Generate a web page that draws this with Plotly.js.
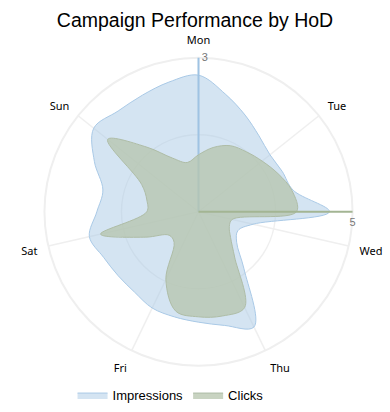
<!DOCTYPE html>
<html>
<head>
<meta charset="utf-8">
<script src="https://cdn.plot.ly/plotly-3.0.1.min.js"></script>
<style>html,body{margin:0;padding:0;background:#fff;}#chart{width:390px;height:412px;}</style>
</head>
<body>
<div id="chart"></div>
<script>
// 7 days x 4 six-hour blocks, drawn clockwise from the top (Mon 00h)
const dayLabels = ['Mon','Tue','Wed','Thu','Fri','Sat','Sun'];
const blocksPerDay = 4;
const impressions = [
  2.66,2.35,2.09,1.89,   // Mon
  1.78,1.81,1.89,2.55,   // Tue
  1.09,0.85,0.95,1.42,   // Wed
  2.49,2.27,2.15,2.10,   // Thu
  2.08,2.00,2.00,2.05,   // Fri
  2.18,1.98,1.91,2.25,   // Sat
  2.61,2.51,2.52,2.59    // Sun
];
const clicks = [
  1.85,2.14,2.38,2.49,   // Mon
  2.64,2.86,3.11,3.18,   // Tue
  1.12,1.11,1.33,1.88,   // Wed
  3.45,3.47,3.41,3.31,   // Thu
  2.44,1.27,1.22,1.90,   // Fri
  3.26,1.68,1.72,2.05,   // Sat
  3.77,2.68,1.93,1.64    // Sun
];
const impressionsMax = 3;
const clicksMax = 5;

const nSlots = dayLabels.length * blocksPerDay;
// close each shape on its first point (same theta) so the spline is drawn closed
const theta = impressions.map((v, i) => i * 360 / nSlots).concat([0]);
const close = arr => arr.concat([arr[0]]);
const dayPos = dayLabels.map((d, i) => i * 360 / dayLabels.length);

const traces = [
  {
    type: 'scatterpolar', name: 'Impressions', subplot: 'polar',
    r: close(impressions), theta: theta, thetaunit: 'degrees',
    mode: 'lines', fill: 'toself',
    line: {shape: 'spline', smoothing: 1, color: '#a9c9e6', width: 1},
    fillcolor: 'rgba(169,201,230,0.5)'
  },
  {
    type: 'scatterpolar', name: 'Clicks', subplot: 'polar2',
    r: close(clicks), theta: theta, thetaunit: 'degrees',
    mode: 'lines', fill: 'toself',
    line: {shape: 'spline', smoothing: 1, color: '#aebca6', width: 1},
    fillcolor: 'rgba(182,196,172,0.75)'
  }
];

const dom = {x: [0.114, 0.904], y: [0.112, 0.860]};
const layout = {
  width: 390, height: 412,
  margin: {l: 0, r: 0, t: 0, b: 0},
  paper_bgcolor: '#fff',
  font: {family: 'Liberation Sans, Arial, sans-serif', color: '#000'},
  title: {text: 'Campaign Performance by HoD', x: 0.5, xanchor: 'center', y: 0.951, yanchor: 'middle',
          font: {size: 19.5, family: 'Liberation Sans, Arial, sans-serif', color: '#000'}},
  showlegend: true,
  legend: {orientation: 'h', x: 0.186, xanchor: 'left', y: 0.041, yanchor: 'middle',
           font: {size: 13, family: 'Liberation Sans, Arial, sans-serif', color: '#000'}, itemwidth: 30},
  polar: {
    domain: dom, bgcolor: 'rgba(0,0,0,0)',
    angularaxis: {
      type: 'linear', thetaunit: 'degrees', rotation: 90, direction: 'clockwise',
      tickmode: 'array', tickvals: dayPos, ticktext: dayLabels,
      showline: true, linecolor: '#efefef', linewidth: 2,
      showgrid: true, gridcolor: '#efefef', gridwidth: 1.5,
      ticks: 'outside', ticklen: 8, tickcolor: 'rgba(0,0,0,0)',
      tickfont: {size: 11, family: 'Noto Sans, sans-serif', color: '#000'}
    },
    radialaxis: {
      range: [0, impressionsMax], angle: 90, tickangle: 90,
      tickmode: 'array', tickvals: [impressionsMax / 2, impressionsMax], ticktext: ['', String(impressionsMax)],
      showline: true, linecolor: '#9fc3e3', linewidth: 2,
      showgrid: true, gridcolor: '#efefef', gridwidth: 1.5,
      ticks: '', tickfont: {size: 11, color: '#777'}
    }
  },
  polar2: {
    domain: dom, bgcolor: 'rgba(0,0,0,0)',
    angularaxis: {
      type: 'linear', thetaunit: 'degrees', rotation: 90, direction: 'clockwise',
      tickmode: 'array', tickvals: dayPos, ticktext: dayLabels,
      showline: false, showgrid: false, showticklabels: false, ticks: ''
    },
    radialaxis: {
      range: [0, clicksMax], angle: 0, tickangle: 0,
      tickmode: 'array', tickvals: [clicksMax], ticktext: [String(clicksMax)],
      showline: true, linecolor: '#a3b593', linewidth: 2,
      showgrid: false, ticks: '', tickfont: {size: 11, color: '#777'}
    }
  }
};

Plotly.newPlot('chart', traces, layout, {displayModeBar: false, staticPlot: true});
</script>
</body>
</html>
